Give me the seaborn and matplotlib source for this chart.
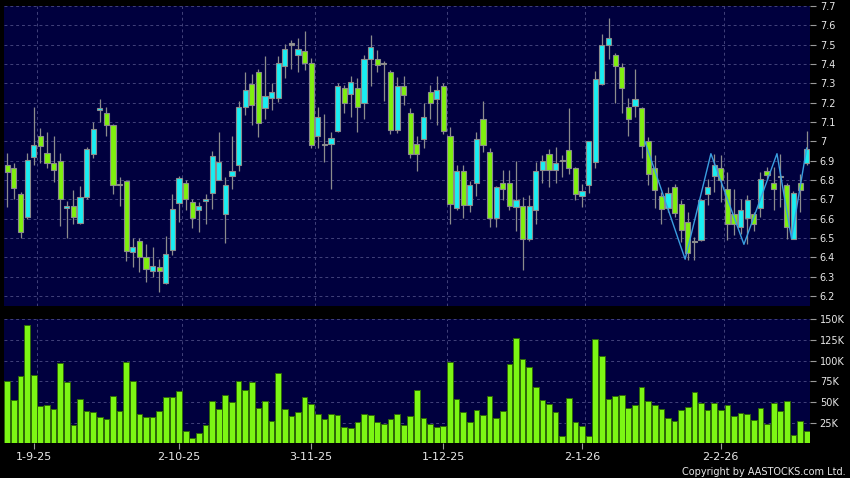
import numpy as np
import pandas as pd
import seaborn as sns
import matplotlib
matplotlib.use("Agg")
import matplotlib.pyplot as plt
from matplotlib.ticker import FixedLocator, FuncFormatter

# daily OHLC (index 0 = 26-8-25)
open_ = [6.88, 6.86, 6.73, 6.61, 6.92, 7.03, 6.94, 6.89, 6.90, 6.655,
         6.665, 6.575, 6.71, 6.935, 7.16, 7.145, 7.085, 6.775, 6.795, 6.425,
         6.485, 6.40, 6.33, 6.35, 6.265, 6.44, 6.68, 6.786, 6.686, 6.646,
         6.69, 6.734, 6.80, 6.626, 6.82, 6.88, 7.18, 7.298, 7.36, 7.17,
         7.226, 7.226, 7.388, 7.50, 7.448, 7.467, 7.407, 7.03, 6.98, 6.988,
         7.052, 7.276, 7.246, 7.276, 7.20, 7.427, 7.427, 7.398, 7.36, 7.057,
         7.286, 7.147, 6.985, 7.01, 7.255, 7.217, 7.286, 7.028, 6.657, 6.846,
         6.669, 6.786, 7.117, 6.945, 6.605, 6.786, 6.786, 6.66, 6.667, 6.497,
         6.647, 6.85, 6.936, 6.85, 6.898, 6.957, 6.86, 6.717, 6.776, 6.893,
         7.298, 7.50, 7.448, 7.385, 7.178, 7.183, 7.17, 7.00, 6.86, 6.717,
         6.657, 6.764, 6.678, 6.583, 6.48, 6.488, 6.729, 6.82, 6.86, 6.755,
         6.626, 6.557, 6.605, 6.622, 6.657, 6.846, 6.786, 6.813, 6.776, 6.497,
         6.786, 6.89]
high = [6.94, 6.89, 6.74, 6.94, 7.18, 7.07, 7.05, 7.03, 6.94, 6.69,
        6.75, 6.77, 6.97, 7.10, 7.22, 7.18, 7.09, 6.815, 6.80, 6.50,
        6.50, 6.47, 6.455, 6.39, 6.51, 6.73, 6.82, 6.80, 6.70, 6.686,
        6.73, 6.95, 7.05, 6.815, 7.03, 7.21, 7.36, 7.35, 7.376, 7.44,
        7.30, 7.44, 7.505, 7.526, 7.536, 7.57, 7.43, 7.18, 7.14, 7.05,
        7.30, 7.29, 7.34, 7.33, 7.445, 7.548, 7.47, 7.415, 7.37, 7.333,
        7.34, 7.17, 7.03, 7.20, 7.29, 7.34, 7.30, 7.074, 6.88, 6.88,
        6.795, 7.05, 7.21, 6.967, 6.77, 6.85, 6.85, 6.897, 6.71, 6.72,
        6.893, 6.928, 6.96, 6.97, 6.928, 7.17, 6.865, 6.78, 7.00, 7.364,
        7.557, 7.64, 7.455, 7.407, 7.226, 7.376, 7.18, 7.02, 6.928, 6.738,
        6.764, 6.78, 6.695, 6.634, 6.505, 6.70, 6.807, 6.936, 6.928, 6.841,
        6.755, 6.70, 6.72, 6.634, 6.841, 6.867, 6.867, 6.936, 6.786, 6.743,
        6.833, 7.055]
low = [6.66, 6.70, 6.50, 6.60, 6.88, 6.89, 6.86, 6.79, 6.56, 6.50,
       6.57, 6.57, 6.70, 6.915, 7.10, 7.03, 6.73, 6.665, 6.38, 6.35,
       6.325, 6.27, 6.30, 6.22, 6.26, 6.41, 6.585, 6.645, 6.55, 6.53,
       6.57, 6.65, 6.80, 6.476, 6.755, 6.846, 7.134, 7.086, 7.02, 7.117,
       7.16, 7.203, 7.33, 7.376, 7.36, 7.367, 6.967, 6.966, 6.893, 6.755,
       7.05, 7.147, 7.126, 7.05, 7.114, 7.286, 7.36, 7.21, 7.04, 7.045,
       7.19, 6.915, 6.847, 6.966, 7.114, 7.086, 7.04, 6.574, 6.643, 6.605,
       6.634, 6.717, 6.945, 6.557, 6.557, 6.695, 6.647, 6.536, 6.336, 6.485,
       6.57, 6.786, 6.764, 6.785, 6.815, 6.83, 6.695, 6.66, 6.733, 6.86,
       7.29, 7.427, 7.20, 7.147, 7.028, 7.126, 6.915, 6.774, 6.657, 6.57,
       6.634, 6.61, 6.48, 6.388, 6.388, 6.485, 6.669, 6.738, 6.686, 6.488,
       6.514, 6.52, 6.467, 6.536, 6.61, 6.807, 6.647, 6.66, 6.497, 6.497,
       6.634, 6.88]
close = [6.84, 6.76, 6.53, 6.905, 6.98, 6.975, 6.89, 6.85, 6.70, 6.665,
         6.61, 6.71, 6.96, 7.065, 7.17, 7.085, 6.775, 6.775, 6.435, 6.455,
         6.40, 6.34, 6.355, 6.33, 6.415, 6.65, 6.81, 6.70, 6.605, 6.667,
         6.70, 6.924, 6.893, 6.776, 6.846, 7.178, 7.264, 7.19, 7.097, 7.233,
         7.255, 7.407, 7.48, 7.50, 7.476, 7.407, 6.98, 7.126, 6.985, 7.019,
         7.286, 7.20, 7.307, 7.18, 7.427, 7.49, 7.397, 7.402, 7.057, 7.286,
         7.238, 6.936, 6.936, 7.126, 7.20, 7.267, 7.052, 6.678, 6.846, 6.669,
         6.776, 7.01, 6.98, 6.605, 6.764, 6.755, 6.667, 6.698, 6.497, 6.667,
         6.846, 6.90, 6.85, 6.888, 6.902, 6.86, 6.73, 6.743, 7.00, 7.32,
         7.50, 7.536, 7.388, 7.278, 7.117, 7.217, 6.976, 6.83, 6.748, 6.648,
         6.733, 6.63, 6.54, 6.424, 6.486, 6.695, 6.764, 6.88, 6.802, 6.57,
         6.574, 6.647, 6.698, 6.574, 6.807, 6.824, 6.755, 6.817, 6.557, 6.733,
         6.748, 6.96]
# volume in thousands of shares
volume = [75.8, 52, 81.9, 143, 82.3, 45.2, 46.4, 41.1, 97.2, 74.2,
          22.2, 53.2, 39.1, 38.3, 32.3, 29.8, 56.9, 38.7, 98, 75.4,
          35.5, 31.9, 31.4, 39.5, 56, 55.6, 63.7, 14.9, 6.5, 12.5,
          21.8, 51.2, 41.1, 58.1, 50, 75.8, 64.9, 74.2, 42.7, 51.2,
          27, 84.7, 41.5, 32.5, 37.9, 56.4, 48, 35.5, 29.8, 35.5,
          34.3, 20.2, 19, 25.8, 35.1, 33.9, 26.2, 23.4, 29.8, 35.5,
          22.6, 32.7, 64.5, 30.2, 23, 20.2, 21, 98.8, 53.6, 37.5,
          25.4, 40.3, 34.7, 57.3, 31, 39.5, 95.6, 127.4, 102.4, 92.7,
          68.1, 52, 47.6, 37.9, 9.3, 54.4, 25.8, 20.6, 8.9, 126.6,
          106, 53.2, 56.9, 58.5, 42.7, 46, 68.1, 50.8, 46.4, 41.9,
          30.6, 26.6, 40.7, 44.4, 62.1, 48.8, 39.9, 48.4, 40.7, 46.8,
          33.1, 37.1, 35.1, 28.2, 42.3, 23.8, 48.8, 38.7, 51.6, 10.5,
          27, 14.5]

# zigzag overlay (x in trading-day index)
zz_x = [96.5, 102.6, 106.5, 111.5, 116.5, 118.7, 121]
zz_y = [7.0, 6.39, 6.936, 6.467, 6.936, 6.497, 6.966]

date_pos = [4, 26, 46, 66, 87, 108]
date_labels = ["1-9-25", "2-10-25", "3-11-25", "1-12-25", "2-1-26", "2-2-26"]
price_ticks = [6.2, 6.3, 6.4, 6.5, 6.6, 6.7, 6.8, 6.9, 7.0, 7.1, 7.2, 7.3, 7.4, 7.5, 7.6, 7.7]
vol_ticks = [25, 50, 75, 100, 125, 150]

df = pd.DataFrame({"open": open_, "high": high, "low": low, "close": close, "vol": volume})
df["idx"] = np.arange(len(df))

navy = "#00003e"
grid_c = "#42427a"
up_c = "#19eef2"
down_c = "#7ff00e"
txt_c = "#e8e8e8"

sns.set_style("dark", {"axes.facecolor": navy, "figure.facecolor": "black"})
plt.rcParams["font.family"] = ["DejaVu Sans"]

fig = plt.figure(figsize=(8.5, 4.78), dpi=100)
fig.patch.set_facecolor("black")
ax1 = fig.add_axes([4 / 850, 172 / 478, 806 / 850, 300 / 478])
ax2 = fig.add_axes([4 / 850, 34.7 / 478, 806 / 850, 124 / 478])

for ax in (ax1, ax2):
    ax.set_facecolor(navy)
    for s in ax.spines.values():
        s.set_visible(False)
    ax.set_axisbelow(True)
    ax.xaxis.set_minor_locator(FixedLocator([p + 0.5 for p in date_pos]))
    ax.grid(which="minor", axis="x", color=grid_c, linestyle=(0, (3, 3)), linewidth=0.7)
    ax.grid(which="major", axis="y", color=grid_c, linestyle=(0, (3, 3)), linewidth=0.7)
    ax.grid(which="major", axis="x", visible=False)
    ax.yaxis.tick_right()
    ax.tick_params(axis="y", which="major", colors="#9a9a9a", labelcolor=txt_c,
                   length=4, width=0.8, pad=3, labelsize=7, right=True, left=False)
    ax.tick_params(axis="x", which="minor", length=0)

# candles
rising = df["close"] > df["open"]
falling = df["close"] < df["open"]
body_col = np.where(rising, up_c, np.where(falling, down_c, "#9a9a9a"))
body_bot = df[["open", "close"]].min(axis=1)
body_h = (df["close"] - df["open"]).abs().clip(lower=0.006)
ax1.vlines(df["idx"], df["low"], df["high"], color="#8c8c8c", linewidth=0.9, zorder=2)
ax1.bar(df["idx"], body_h, bottom=body_bot, width=0.78, color=body_col,
        edgecolor="#8c8c8c", linewidth=0.8, zorder=3)
sns.lineplot(x=zz_x, y=zz_y, sort=False, color="#3a9ee0", linewidth=1.0,
             estimator=None, ax=ax1, zorder=4)

ax1.set_xlim(-0.5, len(df) - 0.5)
ax1.set_ylim(6.148, 7.7)
ax1.set_yticks(price_ticks)
ax1.yaxis.set_major_formatter(FuncFormatter(lambda v, p: f"{v:g}"))
ax1.set_xticks([])
ax1.set_xlabel("")
ax1.set_ylabel("")

# volume
sns.barplot(data=df, x="idx", y="vol", native_scale=True, color="#7cf614",
            saturation=1, width=0.86, edgecolor="#2f6a08", linewidth=0.7,
            errorbar=None, ax=ax2)
ax2.set_xlim(-0.5, len(df) - 0.5)
ax2.set_ylim(0, 150)
ax2.set_yticks(vol_ticks)
ax2.yaxis.set_major_formatter(FuncFormatter(lambda v, p: f"{v:g}K"))
ax2.set_xticks(date_pos)
ax2.set_xticklabels(date_labels)
ax2.tick_params(axis="x", which="major", colors="#9a9a9a", labelcolor=txt_c,
                length=4, width=0.8, pad=2, labelsize=8, bottom=True)
ax2.set_xlabel("")
ax2.set_ylabel("")

fig.text(0.995, 0.002, "Copyright by AASTOCKS.com Ltd.", color=txt_c,
         fontsize=7, ha="right", va="bottom")

fig.savefig("out.png", dpi=100, facecolor="black")
